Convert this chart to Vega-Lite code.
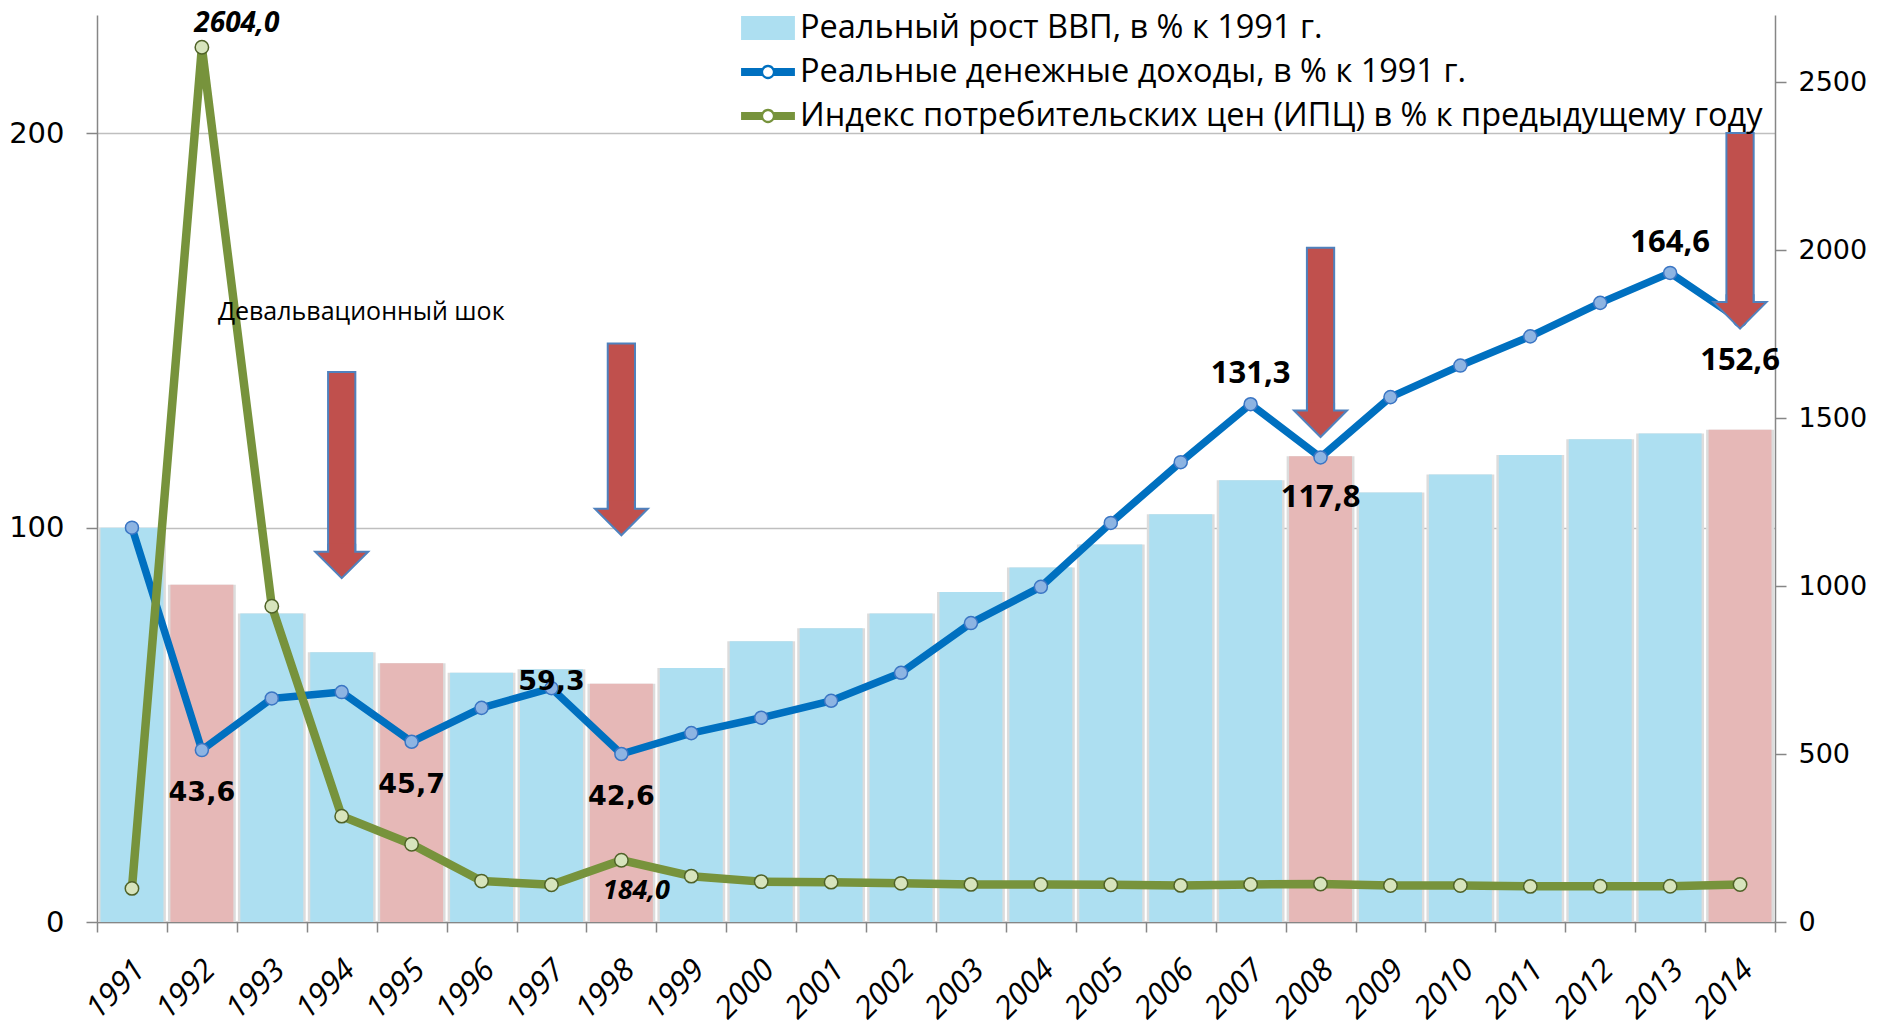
{
  "$schema": "https://vega.github.io/schema/vega-lite/v6.json",
  "width": 1678,
  "height": 907,
  "autosize": "none",
  "padding": {"left": 97, "top": 15, "right": 118, "bottom": 106},
  "background": "white",
  "config": {
    "view": {"stroke": null},
    "axis": {"domainColor": "#868686", "tickColor": "#868686", "domainWidth": 1.5, "tickWidth": 1.5, "labelColor": "#000000"}
  },
  "datasets": {
    "main": [
      {"year": "1991", "gdp": 100.0, "income": 100.0, "cpi": 100.0, "type": "Реальный рост ВВП, в % к 1991 г."},
      {"year": "1992", "gdp": 85.5, "income": 43.6, "cpi": 2604.0, "type": "кризисный год"},
      {"year": "1993", "gdp": 78.2, "income": 56.7, "cpi": 939.9, "type": "Реальный рост ВВП, в % к 1991 г."},
      {"year": "1994", "gdp": 68.4, "income": 58.3, "cpi": 315.1, "type": "Реальный рост ВВП, в % к 1991 г."},
      {"year": "1995", "gdp": 65.6, "income": 45.7, "cpi": 231.3, "type": "кризисный год"},
      {"year": "1996", "gdp": 63.2, "income": 54.3, "cpi": 121.8, "type": "Реальный рост ВВП, в % к 1991 г."},
      {"year": "1997", "gdp": 64.1, "income": 59.3, "cpi": 111.0, "type": "Реальный рост ВВП, в % к 1991 г."},
      {"year": "1998", "gdp": 60.4, "income": 42.6, "cpi": 184.0, "type": "кризисный год"},
      {"year": "1999", "gdp": 64.4, "income": 47.9, "cpi": 136.5, "type": "Реальный рост ВВП, в % к 1991 г."},
      {"year": "2000", "gdp": 71.2, "income": 51.8, "cpi": 120.2, "type": "Реальный рост ВВП, в % к 1991 г."},
      {"year": "2001", "gdp": 74.5, "income": 56.1, "cpi": 118.6, "type": "Реальный рост ВВП, в % к 1991 г."},
      {"year": "2002", "gdp": 78.2, "income": 63.2, "cpi": 115.1, "type": "Реальный рост ВВП, в % к 1991 г."},
      {"year": "2003", "gdp": 83.7, "income": 75.8, "cpi": 112.0, "type": "Реальный рост ВВП, в % к 1991 г."},
      {"year": "2004", "gdp": 89.9, "income": 85.0, "cpi": 111.7, "type": "Реальный рост ВВП, в % к 1991 г."},
      {"year": "2005", "gdp": 95.7, "income": 101.2, "cpi": 110.9, "type": "Реальный рост ВВП, в % к 1991 г."},
      {"year": "2006", "gdp": 103.4, "income": 116.6, "cpi": 109.0, "type": "Реальный рост ВВП, в % к 1991 г."},
      {"year": "2007", "gdp": 112.0, "income": 131.3, "cpi": 111.9, "type": "Реальный рост ВВП, в % к 1991 г."},
      {"year": "2008", "gdp": 118.1, "income": 117.8, "cpi": 113.3, "type": "кризисный год"},
      {"year": "2009", "gdp": 108.9, "income": 133.1, "cpi": 108.8, "type": "Реальный рост ВВП, в % к 1991 г."},
      {"year": "2010", "gdp": 113.5, "income": 141.1, "cpi": 108.8, "type": "Реальный рост ВВП, в % к 1991 г."},
      {"year": "2011", "gdp": 118.4, "income": 148.5, "cpi": 106.1, "type": "Реальный рост ВВП, в % к 1991 г."},
      {"year": "2012", "gdp": 122.4, "income": 157.0, "cpi": 106.6, "type": "Реальный рост ВВП, в % к 1991 г."},
      {"year": "2013", "gdp": 123.9, "income": 164.6, "cpi": 106.5, "type": "Реальный рост ВВП, в % к 1991 г."},
      {"year": "2014", "gdp": 124.8, "income": 152.6, "cpi": 111.4, "type": "кризисный год"}
    ],
    "arrows": [
      {"year": "1994", "top": 139.5, "base": 93.9},
      {"year": "1998", "top": 146.7, "base": 104.8},
      {"year": "2008", "top": 171.0, "base": 129.7},
      {"year": "2014", "top": 200.1, "base": 157.2}
    ]
  },
  "data": {"name": "main"},
  "resolve": {"scale": {"y": "independent"}},
  "layer": [
    {
      "mark": {"type": "bar", "width": {"band": 0.97}, "color": "#DCDCDC"},
      "encoding": {
        "x": {"field": "year", "type": "ordinal", "title": null,
              "scale": {"type": "band", "paddingInner": 0, "paddingOuter": 0},
              "axis": {"tickBand": "extent", "labelAngle": -45, "labelAlign": "right", "labelBaseline": "middle",
                       "labelFont": "Open Sans", "labelFontStyle": "italic", "labelFontSize": 31, "labelPadding": 33,
                       "labelOffset": 8, "tickSize": 10, "grid": false, "domainColor": "#868686"}},
        "y": {"field": "gdp", "type": "quantitative", "title": null, "scale": {"domain": [0, 230], "nice": false},
              "axis": {"orient": "left", "values": [0, 100, 200], "grid": true, "gridColor": "#BFBFBF", "gridWidth": 1.5,
                       "labelFont": "DejaVu Sans", "labelFontSize": 29, "labelPadding": 22, "tickSize": 11}}
      }
    },
    {
      "mark": {"type": "bar", "width": {"band": 0.9}},
      "encoding": {
        "x": {"field": "year", "type": "ordinal", "title": null, "scale": {"type": "band", "paddingInner": 0, "paddingOuter": 0}},
        "y": {"field": "gdp", "type": "quantitative", "title": null, "scale": {"domain": [0, 230], "nice": false}, "axis": null},
        "color": {"field": "type", "type": "nominal",
                  "scale": {"domain": ["Реальный рост ВВП, в % к 1991 г.", "Реальные денежные доходы, в % к 1991 г.", "Индекс потребительских цен (ИПЦ) в % к предыдущему году", "кризисный год"],
                            "range": ["#ADDFF1", "#0070C0", "#77933C", "#E6B8B7"]},
                  "legend": {"orient": "none", "legendX": 644, "legendY": -14, "title": null,
                             "values": ["Реальный рост ВВП, в % к 1991 г.", "Реальные денежные доходы, в % к 1991 г.", "Индекс потребительских цен (ИПЦ) в % к предыдущему году"],
                             "labelFont": "Open Sans", "labelFontSize": 32.5, "labelColor": "#000000", "labelLimit": 1500,
                             "symbolSize": 2900, "symbolStrokeWidth": 0, "labelOffset": 5, "rowPadding": -1, "padding": 0,
                             "encode": {"symbols": {"update": {"shape": {"signal": "datum.value === 'Реальный рост ВВП, в % к 1991 г.' ? 'M-1,-0.45L1,-0.45L1,0.45L-1,0.45Z' : 'M-1,-0.15L-0.216,-0.15A0.26,0.26 0 0,1 0.216,-0.15L1,-0.15L1,0.15L0.216,0.15A0.26,0.26 0 0,1 -0.216,0.15L-1,0.15ZM0.18,0A0.18,0.18 0 1,0 -0.18,0A0.18,0.18 0 1,0 0.18,0Z'"}}}}}}
      }
    },
    {
      "mark": {"type": "line", "color": "#0070C0", "strokeWidth": 7.5, "strokeJoin": "round", "strokeCap": "round"},
      "encoding": {
        "x": {"field": "year", "type": "ordinal", "title": null, "scale": {"type": "band", "paddingInner": 0, "paddingOuter": 0}},
        "y": {"field": "income", "type": "quantitative", "title": null, "scale": {"domain": [0, 230], "nice": false}, "axis": null}
      }
    },
    {
      "mark": {"type": "point", "filled": true, "fill": "#8DB4E2", "stroke": "#3A75C4", "strokeWidth": 1.5, "size": 170, "opacity": 1},
      "encoding": {
        "x": {"field": "year", "type": "ordinal", "title": null, "scale": {"type": "band", "paddingInner": 0, "paddingOuter": 0}},
        "y": {"field": "income", "type": "quantitative", "title": null, "scale": {"domain": [0, 230], "nice": false}, "axis": null}
      }
    },
    {
      "mark": {"type": "line", "color": "#77933C", "strokeWidth": 8.5, "strokeJoin": "round", "strokeCap": "round"},
      "encoding": {
        "x": {"field": "year", "type": "ordinal", "title": null, "scale": {"type": "band", "paddingInner": 0, "paddingOuter": 0}},
        "y": {"field": "cpi", "type": "quantitative", "title": null, "scale": {"domain": [0, 2700], "nice": false},
              "axis": {"orient": "right", "values": [0, 500, 1000, 1500, 2000, 2500], "format": "d", "grid": false,
                       "labelFont": "DejaVu Sans", "labelFontSize": 27, "labelPadding": 12, "tickSize": 11}}
      }
    },
    {
      "mark": {"type": "point", "filled": true, "fill": "#D7E4BD", "stroke": "#4F6228", "strokeWidth": 1.5, "size": 180, "opacity": 1},
      "encoding": {
        "x": {"field": "year", "type": "ordinal", "title": null, "scale": {"type": "band", "paddingInner": 0, "paddingOuter": 0}},
        "y": {"field": "cpi", "type": "quantitative", "title": null, "scale": {"domain": [0, 2700], "nice": false}, "axis": null}
      }
    },
    {
      "data": {"name": "arrows"},
      "mark": {"type": "bar", "width": {"band": 0.39}, "fill": "#C0504D", "stroke": "#4F81BD", "strokeWidth": 2},
      "encoding": {
        "x": {"field": "year", "type": "ordinal", "title": null, "scale": {"type": "band", "paddingInner": 0, "paddingOuter": 0}},
        "y": {"field": "top", "type": "quantitative", "title": null, "scale": {"domain": [0, 230], "nice": false}, "axis": null},
        "y2": {"field": "base"}
      }
    },
    {
      "data": {"name": "arrows"},
      "mark": {"type": "point", "shape": "M-0.51,-0.3L-0.51,0L-1,0L0,1L1,0L0.51,0L0.51,-0.3", "size": 2809, "filled": true,
               "fill": "#C0504D", "stroke": "#4F81BD", "strokeWidth": 2, "opacity": 1},
      "encoding": {
        "x": {"field": "year", "type": "ordinal", "title": null, "scale": {"type": "band", "paddingInner": 0, "paddingOuter": 0}},
        "y": {"field": "base", "type": "quantitative", "title": null, "scale": {"domain": [0, 230], "nice": false}, "axis": null}
      }
    },
    {
      "data": {"values": [
        {"year": "1992", "v": 43.6, "t": "43,6"},
        {"year": "1995", "v": 45.7, "t": "45,7"},
        {"year": "1998", "v": 42.6, "t": "42,6"}
      ]},
      "mark": {"type": "text", "font": "DejaVu Sans", "fontWeight": "bold", "fontSize": 27, "dy": 43, "color": "#000000", "baseline": "middle"},
      "encoding": {
        "x": {"field": "year", "type": "ordinal", "title": null, "scale": {"type": "band", "paddingInner": 0, "paddingOuter": 0}},
        "y": {"field": "v", "type": "quantitative", "title": null, "scale": {"domain": [0, 230], "nice": false}, "axis": null},
        "text": {"field": "t"}
      }
    },
    {
      "data": {"values": [{"year": "1997", "v": 59.3, "t": "59,3"}]},
      "mark": {"type": "text", "font": "DejaVu Sans", "fontWeight": "bold", "fontSize": 27, "dy": -6, "color": "#000000", "baseline": "middle"},
      "encoding": {
        "x": {"field": "year", "type": "ordinal", "title": null, "scale": {"type": "band", "paddingInner": 0, "paddingOuter": 0}},
        "y": {"field": "v", "type": "quantitative", "title": null, "scale": {"domain": [0, 230], "nice": false}, "axis": null},
        "text": {"field": "t"}
      }
    },
    {
      "data": {"values": [
        {"year": "2007", "v": 131.3, "t": "131,3"},
        {"year": "2013", "v": 164.6, "t": "164,6"}
      ]},
      "mark": {"type": "text", "font": "Open Sans", "fontWeight": "bold", "fontSize": 31, "dy": -30, "color": "#000000", "baseline": "middle"},
      "encoding": {
        "x": {"field": "year", "type": "ordinal", "title": null, "scale": {"type": "band", "paddingInner": 0, "paddingOuter": 0}},
        "y": {"field": "v", "type": "quantitative", "title": null, "scale": {"domain": [0, 230], "nice": false}, "axis": null},
        "text": {"field": "t"}
      }
    },
    {
      "data": {"values": [
        {"year": "2008", "v": 117.8, "t": "117,8"},
        {"year": "2014", "v": 152.6, "t": "152,6"}
      ]},
      "mark": {"type": "text", "font": "Open Sans", "fontWeight": "bold", "fontSize": 31, "dy": 41, "color": "#000000", "baseline": "middle"},
      "encoding": {
        "x": {"field": "year", "type": "ordinal", "title": null, "scale": {"type": "band", "paddingInner": 0, "paddingOuter": 0}},
        "y": {"field": "v", "type": "quantitative", "title": null, "scale": {"domain": [0, 230], "nice": false}, "axis": null},
        "text": {"field": "t"}
      }
    },
    {
      "data": {"values": [{"year": "1992", "v": 2604.0, "t": "2604,0"}]},
      "mark": {"type": "text", "font": "Open Sans", "fontWeight": "bold", "fontStyle": "italic", "fontSize": 28, "dx": 35, "dy": -23, "color": "#000000", "baseline": "middle"},
      "encoding": {
        "x": {"field": "year", "type": "ordinal", "title": null, "scale": {"type": "band", "paddingInner": 0, "paddingOuter": 0}},
        "y": {"field": "v", "type": "quantitative", "title": null, "scale": {"domain": [0, 2700], "nice": false}, "axis": null},
        "text": {"field": "t"}
      }
    },
    {
      "data": {"values": [{"year": "1998", "v": 184.0, "t": "184,0"}]},
      "mark": {"type": "text", "font": "Open Sans", "fontWeight": "bold", "fontStyle": "italic", "fontSize": 27, "dx": 15, "dy": 31, "color": "#000000", "baseline": "middle"},
      "encoding": {
        "x": {"field": "year", "type": "ordinal", "title": null, "scale": {"type": "band", "paddingInner": 0, "paddingOuter": 0}},
        "y": {"field": "v", "type": "quantitative", "title": null, "scale": {"domain": [0, 2700], "nice": false}, "axis": null},
        "text": {"field": "t"}
      }
    },
    {
      "data": {"values": [{"year": "1992", "v": 154.7, "t": "Девальвационный шок"}]},
      "mark": {"type": "text", "font": "Open Sans", "fontSize": 25, "dx": 16, "align": "left", "color": "#000000", "baseline": "middle"},
      "encoding": {
        "x": {"field": "year", "type": "ordinal", "title": null, "scale": {"type": "band", "paddingInner": 0, "paddingOuter": 0}},
        "y": {"field": "v", "type": "quantitative", "title": null, "scale": {"domain": [0, 230], "nice": false}, "axis": null},
        "text": {"field": "t"}
      }
    }
  ]
}
